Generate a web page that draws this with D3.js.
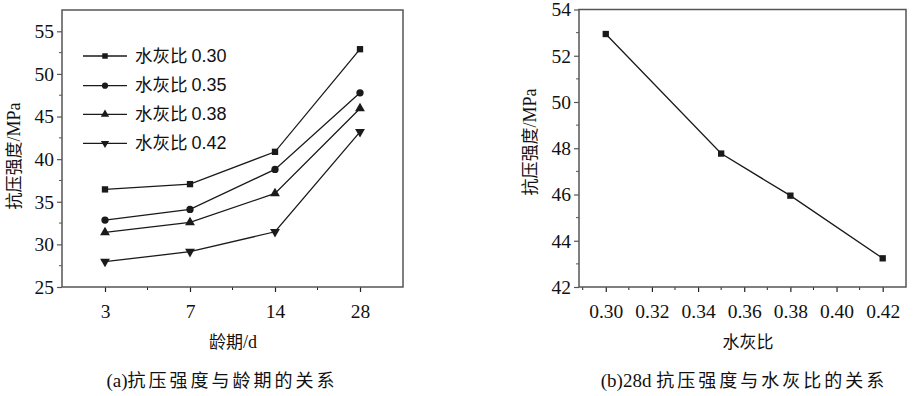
<!DOCTYPE html>
<html><head><meta charset="utf-8">
<script src="https://cdn.jsdelivr.net/npm/d3@7"></script>
<style>
body{margin:0;background:#fff;}
svg{display:block;}
</style></head>
<body>
<svg id="c" width="916" height="396"></svg>
<script>
// ---- data ----
const ages = ["3", "7", "14", "28"];
const seriesNames = ["水灰比 0.30", "水灰比 0.35", "水灰比 0.38", "水灰比 0.42"];
const s030 = [36.45, 37.07, 40.86, 52.9];
const s035 = [32.85, 34.10, 38.80, 47.78];
const s038 = [31.40, 32.58, 35.98, 45.95];
const s042 = [27.97, 29.14, 31.48, 43.2];
const leftYTicks = [25, 30, 35, 40, 45, 50, 55];

const wcRatios = [0.30, 0.35, 0.38, 0.42];
const strength28 = [52.94, 47.77, 45.95, 43.24];
const rightXTicks = [0.30, 0.32, 0.34, 0.36, 0.38, 0.40, 0.42];
const rightYTicks = [42, 44, 46, 48, 50, 52, 54];

const leftSeries = [s030, s035, s038, s042];
const symbols = [d3.symbolSquare, d3.symbolCircle, d3.symbolTriangle, "tri-down"];

const svg = d3.select("#c");
const serif = "'Liberation Serif','Times New Roman',serif";
const cjk = "'Noto Sans CJK SC','Noto Sans',sans-serif";
const sans = "'Liberation Sans','Noto Sans CJK SC',sans-serif";
const lineColor = "#1a1a1a";
const frameColor = "#555";
const tickFont = 19.5;

function marker(g, type, x, y, size) {
  if (type === "tri-down") {
    g.append("path").attr("d", d3.symbol(d3.symbolTriangle, size)())
      .attr("transform", `translate(${x},${y}) rotate(180)`).attr("fill", lineColor);
  } else {
    g.append("path").attr("d", d3.symbol(type, size)())
      .attr("transform", `translate(${x},${y})`).attr("fill", lineColor);
  }
}

function yTitle(g, cx, cy) {
  const t = g.append("text").attr("transform", `translate(${cx},${cy}) rotate(-90)`)
    .attr("text-anchor", "middle").attr("font-size", 17).attr("fill", "#111");
  t.append("tspan").attr("font-family", cjk).text("抗压强度");
  t.append("tspan").attr("font-family", serif).attr("font-size", 18).text("/MPa");
}

function caption(g, cx, cy, lead, rest) {
  const t = g.append("text").attr("x", cx).attr("y", cy).attr("text-anchor", "middle")
    .attr("fill", "#111");
  t.append("tspan").attr("font-family", serif).attr("font-size", 19).text(lead);
  t.append("tspan").attr("font-family", cjk).attr("font-size", 18).attr("letter-spacing", 3).text(rest);
}

// ---------- left chart ----------
{
  const L = 62, R = 403, T = 10, B = 287;
  const x = d3.scalePoint().domain(ages).range([105, 360]);
  const y = d3.scaleLinear().domain([25, 57.5]).range([B, T]);
  const g = svg.append("g");

  const yMinor = d3.range(27.5, 57.5, 5);
  g.selectAll(".ym").data(yMinor).join("line")
    .attr("x1", L - 3).attr("x2", L).attr("y1", d => y(d)).attr("y2", d => y(d))
    .attr("stroke", frameColor).attr("stroke-width", 1);
  const step = x.step();
  const xMinorPos = [x("3") + step / 2, x("7") + step / 2, x("14") + step / 2];
  g.selectAll(".xm").data(xMinorPos).join("line")
    .attr("x1", d => d).attr("x2", d => d).attr("y1", B).attr("y2", B + 3)
    .attr("stroke", "#222").attr("stroke-width", 1);

  const yAxis = d3.axisLeft(y).tickValues(leftYTicks).tickSize(5).tickPadding(3);
  const ya = g.append("g").attr("transform", `translate(${L},0)`).call(yAxis);
  ya.select(".domain").remove();
  ya.selectAll("line").attr("stroke", frameColor).attr("stroke-width", 1.2);
  ya.selectAll("text").attr("font-family", serif).attr("font-size", tickFont).attr("fill", "#111");

  const xAxis = d3.axisBottom(x).tickSize(5).tickPadding(12);
  const xa = g.append("g").attr("transform", `translate(0,${B})`).call(xAxis);
  xa.select(".domain").remove();
  xa.selectAll("line").attr("stroke", "#222").attr("stroke-width", 1.2);
  xa.selectAll("text").attr("font-family", serif).attr("font-size", tickFont).attr("fill", "#111");

  g.append("rect").attr("x", L).attr("y", T).attr("width", R - L).attr("height", B - T)
    .attr("fill", "none").attr("stroke", frameColor).attr("stroke-width", 1.5);

  const line = d3.line().x((d, i) => x(ages[i])).y(d => y(d));
  leftSeries.forEach((s, k) => {
    g.append("path").attr("d", line(s)).attr("fill", "none")
      .attr("stroke", lineColor).attr("stroke-width", 1.3);
    s.forEach((v, i) => marker(g, symbols[k], x(ages[i]), y(v), k === 0 ? 40 : 42));
  });

  const ly = [56, 85.7, 114.3, 143.3];
  seriesNames.forEach((n, k) => {
    g.append("line").attr("x1", 83).attr("x2", 127).attr("y1", ly[k]).attr("y2", ly[k])
      .attr("stroke", lineColor).attr("stroke-width", 1.3);
    marker(g, symbols[k], 105, ly[k], 30);
    const parts = n.split(" ");
    const t = g.append("text").attr("x", 135).attr("y", ly[k]).attr("dy", "0.36em")
      .attr("fill", "#111");
    t.append("tspan").attr("font-family", cjk).attr("font-size", 17.5).text(parts[0] + " ");
    t.append("tspan").attr("font-family", sans).attr("font-size", 18).text(parts[1]);
  });

  yTitle(g, 20, 156);
  g.append("text").attr("x", 233).attr("y", 348).attr("text-anchor", "middle")
    .attr("fill", "#111").call(t => {
      t.append("tspan").attr("font-family", cjk).attr("font-size", 17).text("龄期");
      t.append("tspan").attr("font-family", serif).attr("font-size", 18).text("/d");
    });
  caption(g, 222, 387, "(a)", "抗压强度与龄期的关系");
}

// ---------- right chart ----------
{
  const L = 579, R = 906, T = 9.5, B = 287;
  const x = d3.scaleLinear().domain([0.2884, 0.4301]).range([L, R]);
  const y = d3.scaleLinear().domain([42, 54]).range([B, T]);
  const g = svg.append("g");

  const yMinor = d3.range(43, 54, 2);
  g.selectAll(".ym").data(yMinor).join("line")
    .attr("x1", L - 3).attr("x2", L).attr("y1", d => y(d)).attr("y2", d => y(d))
    .attr("stroke", frameColor).attr("stroke-width", 1);
  const xMinor = [0.29, 0.31, 0.33, 0.35, 0.37, 0.39, 0.41, 0.43].filter(v => x(v) > L + 1 && x(v) < R - 1);
  g.selectAll(".xm").data(xMinor).join("line")
    .attr("x1", d => x(d)).attr("x2", d => x(d)).attr("y1", B).attr("y2", B + 3)
    .attr("stroke", "#222").attr("stroke-width", 1);

  const yAxis = d3.axisLeft(y).tickValues(rightYTicks).tickSize(5).tickPadding(3).tickFormat(d3.format("d"));
  const ya = g.append("g").attr("transform", `translate(${L},0)`).call(yAxis);
  ya.select(".domain").remove();
  ya.selectAll("line").attr("stroke", frameColor).attr("stroke-width", 1.2);
  ya.selectAll("text").attr("font-family", serif).attr("font-size", tickFont).attr("fill", "#111");

  const xAxis = d3.axisBottom(x).tickValues(rightXTicks).tickSize(5).tickPadding(12).tickFormat(d3.format(".2f"));
  const xa = g.append("g").attr("transform", `translate(0,${B})`).call(xAxis);
  xa.select(".domain").remove();
  xa.selectAll("line").attr("stroke", "#222").attr("stroke-width", 1.2);
  xa.selectAll("text").attr("font-family", serif).attr("font-size", tickFont).attr("fill", "#111");

  g.append("rect").attr("x", L).attr("y", T).attr("width", R - L).attr("height", B - T)
    .attr("fill", "none").attr("stroke", frameColor).attr("stroke-width", 1.5);

  const line = d3.line().x((d, i) => x(wcRatios[i])).y(d => y(d));
  g.append("path").attr("d", line(strength28)).attr("fill", "none")
    .attr("stroke", lineColor).attr("stroke-width", 1.3);
  strength28.forEach((v, i) => marker(g, d3.symbolSquare, x(wcRatios[i]), y(v), 40));

  yTitle(g, 536, 142);
  g.append("text").attr("x", 748).attr("y", 348).attr("text-anchor", "middle")
    .attr("font-family", cjk).attr("font-size", 17).attr("fill", "#111").text("水灰比");
  caption(g, 744, 387, "(b)28d ", "抗压强度与水灰比的关系");
}
</script>
</body></html>
